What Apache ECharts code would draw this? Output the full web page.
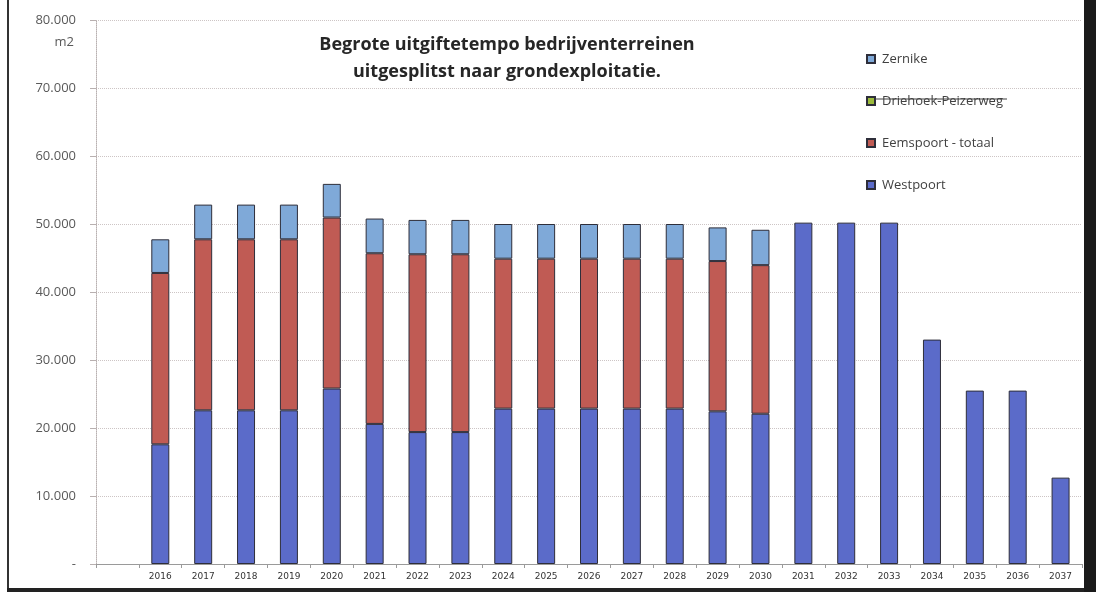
<!DOCTYPE html>
<html>
<head>
<meta charset="utf-8">
<script src="https://cdn.jsdelivr.net/npm/echarts@6/dist/echarts.min.js"></script>
<style>
  html, body { margin: 0; padding: 0; background: #fff; }
  #chart { width: 1096px; height: 592px; }
</style>
</head>
<body>
<div id="chart"></div>
<script>
// Jaren (de eerste, lege categorie houdt ruimte vrij naast de as)
const years = ['2016','2017','2018','2019','2020','2021','2022','2023','2024','2025','2026',
               '2027','2028','2029','2030','2031','2032','2033','2034','2035','2036','2037'];

// Uitgifte in m2 per grondexploitatie
const westpoort = [17600, 22600, 22600, 22600, 25800, 20600, 19400, 19400, 22850, 22850, 22850,
                   22850, 22850, 22450, 22100, 50200, 50200, 50200, 33000, 25500, 25500, 12700];
const eemspoort = [25200, 25150, 25150, 25150, 25150, 25100, 26150, 26150, 22050, 22050, 22050,
                   22050, 22050, 22100, 21850, null, null, null, null, null, null, null];
const driehoek  = [null, null, null, null, null, null, null, null, null, null, null,
                   null, null, null, null, null, null, null, null, null, null, null];
const zernike   = [4950, 5100, 5100, 5100, 4950, 5100, 5050, 5050, 5100, 5100, 5100,
                   5100, 5100, 4950, 5200, null, null, null, null, null, null, null];

const yTicks = [0, 10000, 20000, 30000, 40000, 50000, 60000, 70000, 80000];

const categories = [''].concat(years);
const pad = arr => [null].concat(arr);

function fmt(v) {
  if (v === 0) return '-';
  return String(v).replace(/\B(?=(\d{3})+(?!\d))/g, '.');
}

const border = { borderColor: '#2e2e3a', borderWidth: 1 };

const chart = echarts.init(document.getElementById('chart'), null, { renderer: 'canvas' });

chart.setOption({
  animation: false,
  backgroundColor: '#ffffff',
  textStyle: { fontFamily: '"Open Sans", "Liberation Sans", sans-serif' },
  grid: { left: 96, right: 14, top: 20, bottom: 28 },
  legend: {
    data: ['Zernike', 'Driehoek-Peizerweg', 'Eemspoort - totaal', 'Westpoort'],
    orient: 'vertical',
    left: 861,
    top: 45,
    itemWidth: 8,
    itemHeight: 8,
    itemGap: 24,
    icon: 'rect',
    selectedMode: false,
    textStyle: { fontSize: 13, color: '#404040', fontFamily: '"Open Sans", sans-serif',
                 padding: [0, 0, 0, 2], lineHeight: 18 }
  },
  xAxis: {
    type: 'category',
    data: categories,
    axisLine: { lineStyle: { color: '#9a9a9a', width: 1 } },
    axisTick: { show: true, length: 4, lineStyle: { color: '#9a9a9a' } },
    axisLabel: { fontSize: 9, color: '#333', margin: 8, fontFamily: '"DejaVu Sans", sans-serif' },
    splitLine: { show: false }
  },
  yAxis: {
    type: 'value',
    min: yTicks[0],
    max: yTicks[yTicks.length - 1],
    interval: yTicks[1] - yTicks[0],
    axisLine: { show: true, lineStyle: { color: '#b8b0b0', type: 'dotted' } },
    axisTick: { show: true, length: 6, lineStyle: { color: '#b8b0b0' } },
    axisLabel: { formatter: fmt, fontSize: 13, color: '#595959', margin: 20 },
    splitLine: { lineStyle: { color: '#cdc5c5', type: 'dotted', width: 1 } }
  },
  series: [
    { name: 'Westpoort', type: 'bar', stack: 'm2', barWidth: 18, data: pad(westpoort),
      itemStyle: Object.assign({ color: '#5b6bc9' }, border) },
    { name: 'Eemspoort - totaal', type: 'bar', stack: 'm2', barWidth: 18, data: pad(eemspoort),
      itemStyle: Object.assign({ color: '#c05b54' }, border) },
    { name: 'Driehoek-Peizerweg', type: 'bar', stack: 'm2', barWidth: 18, data: pad(driehoek),
      itemStyle: Object.assign({ color: '#9cbb3c' }, border) },
    { name: 'Zernike', type: 'bar', stack: 'm2', barWidth: 18, data: pad(zernike),
      itemStyle: Object.assign({ color: '#7fa9d8' }, border) }
  ],
  graphic: [
    { type: 'text', z: 10, style: {
        text: 'Begrote uitgiftetempo bedrijventerreinen\nuitgesplitst naar grondexploitatie.',
        x: 507, y: 31, textAlign: 'center', fill: '#262626',
        font: 'bold 18px "Open Sans", sans-serif', lineHeight: 27 } },
    { type: 'text', style: { text: 'm2', x: 74, y: 42, textAlign: 'right', textVerticalAlign: 'middle',
        fill: '#595959', font: '13px "Open Sans", sans-serif' } },
    // doorgehaalde legendatekst
    { type: 'line', shape: { x1: 875, y1: 99, x2: 1007, y2: 99 }, style: { stroke: '#404040', lineWidth: 1 }, z: 20 },
    // kader
    { type: 'rect', shape: { x: 7, y: 0, width: 2, height: 592 }, style: { fill: '#333' } },
    { type: 'rect', shape: { x: 7, y: 588, width: 1089, height: 4 }, style: { fill: '#222' } },
    { type: 'rect', shape: { x: 1084, y: 0, width: 12, height: 592 }, style: { fill: '#1a1a1a' } }
  ]
});
</script>
</body>
</html>
